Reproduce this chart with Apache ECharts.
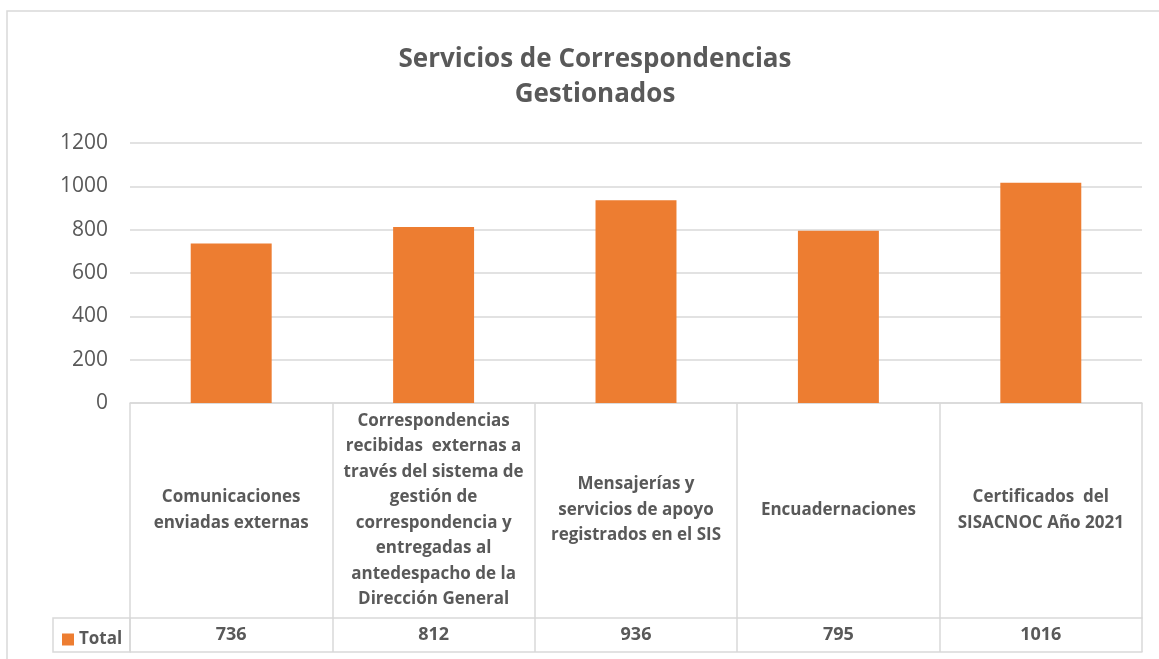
<!DOCTYPE html>
<html lang="es">
<head>
    <meta charset="UTF-8">
    <title>Servicios de Correspondencias Gestionados</title>
    <script src="https://cdn.jsdelivr.net/npm/echarts@6/dist/echarts.min.js"></script>
    <style>
        html, body { margin: 0; padding: 0; background: #fff; }
    </style>
</head>
<body>

<div id="chart" style="width:1159px;height:659px;"></div>
<script>
    // categorias (con saltos de linea como en la tabla original)
    var categorias = [
        'Comunicaciones\nenviadas externas',
        'Correspondencias\nrecibidas  externas a\ntravés del sistema de\ngestión de\ncorrespondencia y\nentregadas al\nantedespacho de la\nDirección General',
        'Mensajerías y\nservicios de apoyo\nregistrados en el SIS',
        'Encuadernaciones',
        'Certificados  del\nSISACNOC Año 2021'
    ];
    var totales = [736, 812, 936, 795, 1016];
    var ticksY = [0, 200, 400, 600, 800, 1000, 1200];

    var gris = '#595959';
    var linea = '#d9d9d9';
    var fuente = '"Open Sans", sans-serif';

    var myChart = echarts.init(document.getElementById('chart'));

    var option = {
        animation: false,
        title: {
            text: 'Servicios de Correspondencias\nGestionados',
            left: 590,
            textAlign: 'center',
            top: 37,
            textStyle: {
                color: gris,
                fontFamily: fuente,
                fontWeight: 'bold',
                fontSize: 26,
                lineHeight: 35
            }
        },
        legend: {
            data: ['Total'],
            left: 57,
            top: 626,
            icon: 'rect',
            itemWidth: 12,
            itemHeight: 12,
            itemGap: 5,
            itemStyle: { borderWidth: 0 },
            textStyle: { color: gris, fontFamily: fuente, fontWeight: 'bold', fontSize: 17 }
        },
        grid: { left: 130, right: 17, top: 143, bottom: 256 },
        xAxis: [{
            type: 'category',
            data: categorias,
            axisLine: { show: true, lineStyle: { color: linea, width: 1.5 } },
            axisTick: { show: true, length: 249, interval: 0, lineStyle: { color: linea, width: 1.5 } },
            axisLabel: {
                interval: 0,
                margin: 107,
                verticalAlign: 'middle',
                color: gris,
                fontFamily: fuente,
                fontWeight: 'bold',
                fontSize: 17,
                lineHeight: 25.5
            }
        }, {
            type: 'category',
            data: categorias,
            position: 'bottom',
            offset: 215,
            axisLine: { show: true, lineStyle: { color: linea, width: 1.5 } },
            axisTick: { show: false },
            axisLabel: {
                interval: 0,
                margin: 17,
                verticalAlign: 'middle',
                color: gris,
                fontFamily: fuente,
                fontWeight: 'bold',
                fontSize: 18,
                formatter: function (v, i) { return String(totales[i]); }
            }
        }, {
            type: 'category',
            data: categorias,
            position: 'bottom',
            offset: 249,
            axisLine: { show: true, lineStyle: { color: linea, width: 1.5 } },
            axisTick: { show: false },
            axisLabel: { show: false }
        }],
        yAxis: {
            type: 'value',
            min: ticksY[0],
            max: ticksY[ticksY.length - 1],
            interval: 200,
            axisLine: { show: false },
            axisTick: { show: false },
            splitLine: { lineStyle: { color: linea, width: 1.5 } },
            axisLabel: {
                margin: 22,
                color: gris,
                fontFamily: fuente,
                fontSize: 21,
                formatter: function (v) { return String(v); }
            }
        },
        graphic: [{
            type: 'rect',
            shape: { x: 7, y: 11, width: 1300, height: 800 },
            style: { fill: 'none', stroke: linea, lineWidth: 1.5 },
            silent: true
        }, {
            type: 'rect',
            shape: { x: 53, y: 618, width: 77, height: 34 },
            style: { fill: 'none', stroke: linea, lineWidth: 1.5 },
            silent: true
        }],
        series: [{
            name: 'Total',
            type: 'bar',
            data: totales,
            barWidth: '40%',
            itemStyle: { color: '#ED7D31' }
        }]
    };

    myChart.setOption(option);
</script>
</body>
</html>
